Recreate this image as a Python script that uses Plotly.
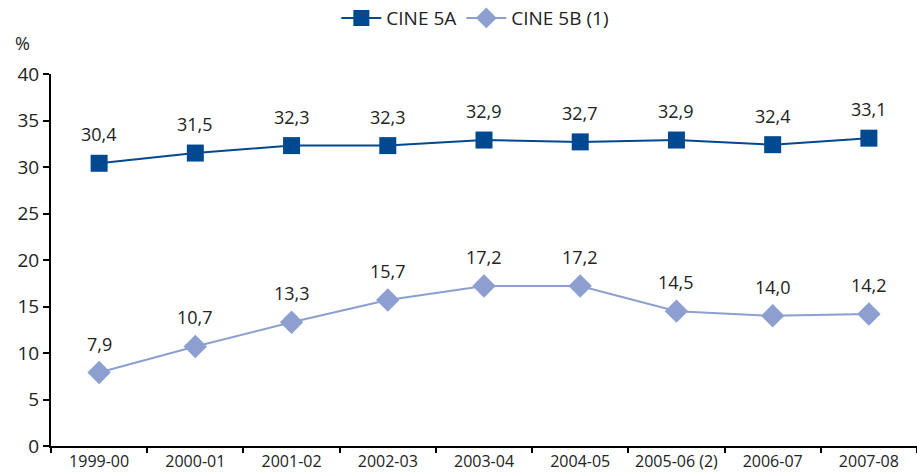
import plotly.graph_objects as go

years = ["1999-00", "2000-01", "2001-02", "2002-03", "2003-04", "2004-05",
         "2005-06 (2)", "2006-07", "2007-08"]
cine_5a = [30.4, 31.5, 32.3, 32.3, 32.9, 32.7, 32.9, 32.4, 33.1]
cine_5b = [7.9, 10.7, 13.3, 15.7, 17.2, 17.2, 14.5, 14.0, 14.2]

FONT = "Open Sans"
C5A = "#004990"
C5B = "#8c9fd0"


def fmt(v):
    return f"{v:.1f}".replace(".", ",")


fig = go.Figure()
fig.add_trace(go.Scatter(x=years, y=cine_5a, mode="lines+markers", name="CINE 5A",
                         line=dict(color=C5A, width=2),
                         marker=dict(symbol="square", size=17, color=C5A)))
fig.add_trace(go.Scatter(x=years, y=cine_5b, mode="lines+markers", name="CINE 5B (1)",
                         line=dict(color=C5B, width=2),
                         marker=dict(symbol="diamond", size=18, color=C5B)))

for series in (cine_5a, cine_5b):
    for x, v in zip(years, series):
        fig.add_annotation(x=x, y=v, text=fmt(v), showarrow=False, yshift=29,
                           font=dict(family=FONT, size=18, color="#222222"))

fig.add_annotation(xref="paper", yref="paper", x=-0.022, y=1.045, xanchor="right",
                   yanchor="bottom", text="%", showarrow=False,
                   font=dict(family=FONT, size=18, color="#222222"))

fig.update_layout(
    width=917, height=476,
    margin=dict(l=51, r=0, t=74, b=30, autoexpand=False),
    plot_bgcolor="white", paper_bgcolor="white",
    font=dict(family=FONT, size=18, color="#222222"),
    showlegend=True,
    legend=dict(orientation="h", x=0.49, xanchor="center", y=0.962, yanchor="middle",
                yref="container", font=dict(size=19), itemwidth=40),
    xaxis=dict(type="category", range=[-0.5, 8.5], showline=True, linecolor="black",
               linewidth=2, ticks="outside", tickson="boundaries", ticklen=5,
               tickcolor="black", tickwidth=2, showgrid=False, tickfont=dict(size=16)),
    yaxis=dict(range=[0, 40], dtick=5, showline=True, linecolor="black", linewidth=2,
               ticks="outside", ticklen=6, tickcolor="black", tickwidth=2,
               showgrid=False, zeroline=False, tickfont=dict(size=19)),
)

fig.write_html("out.html", config={"displayModeBar": False},
               post_script="document.body.style.margin='0';")
